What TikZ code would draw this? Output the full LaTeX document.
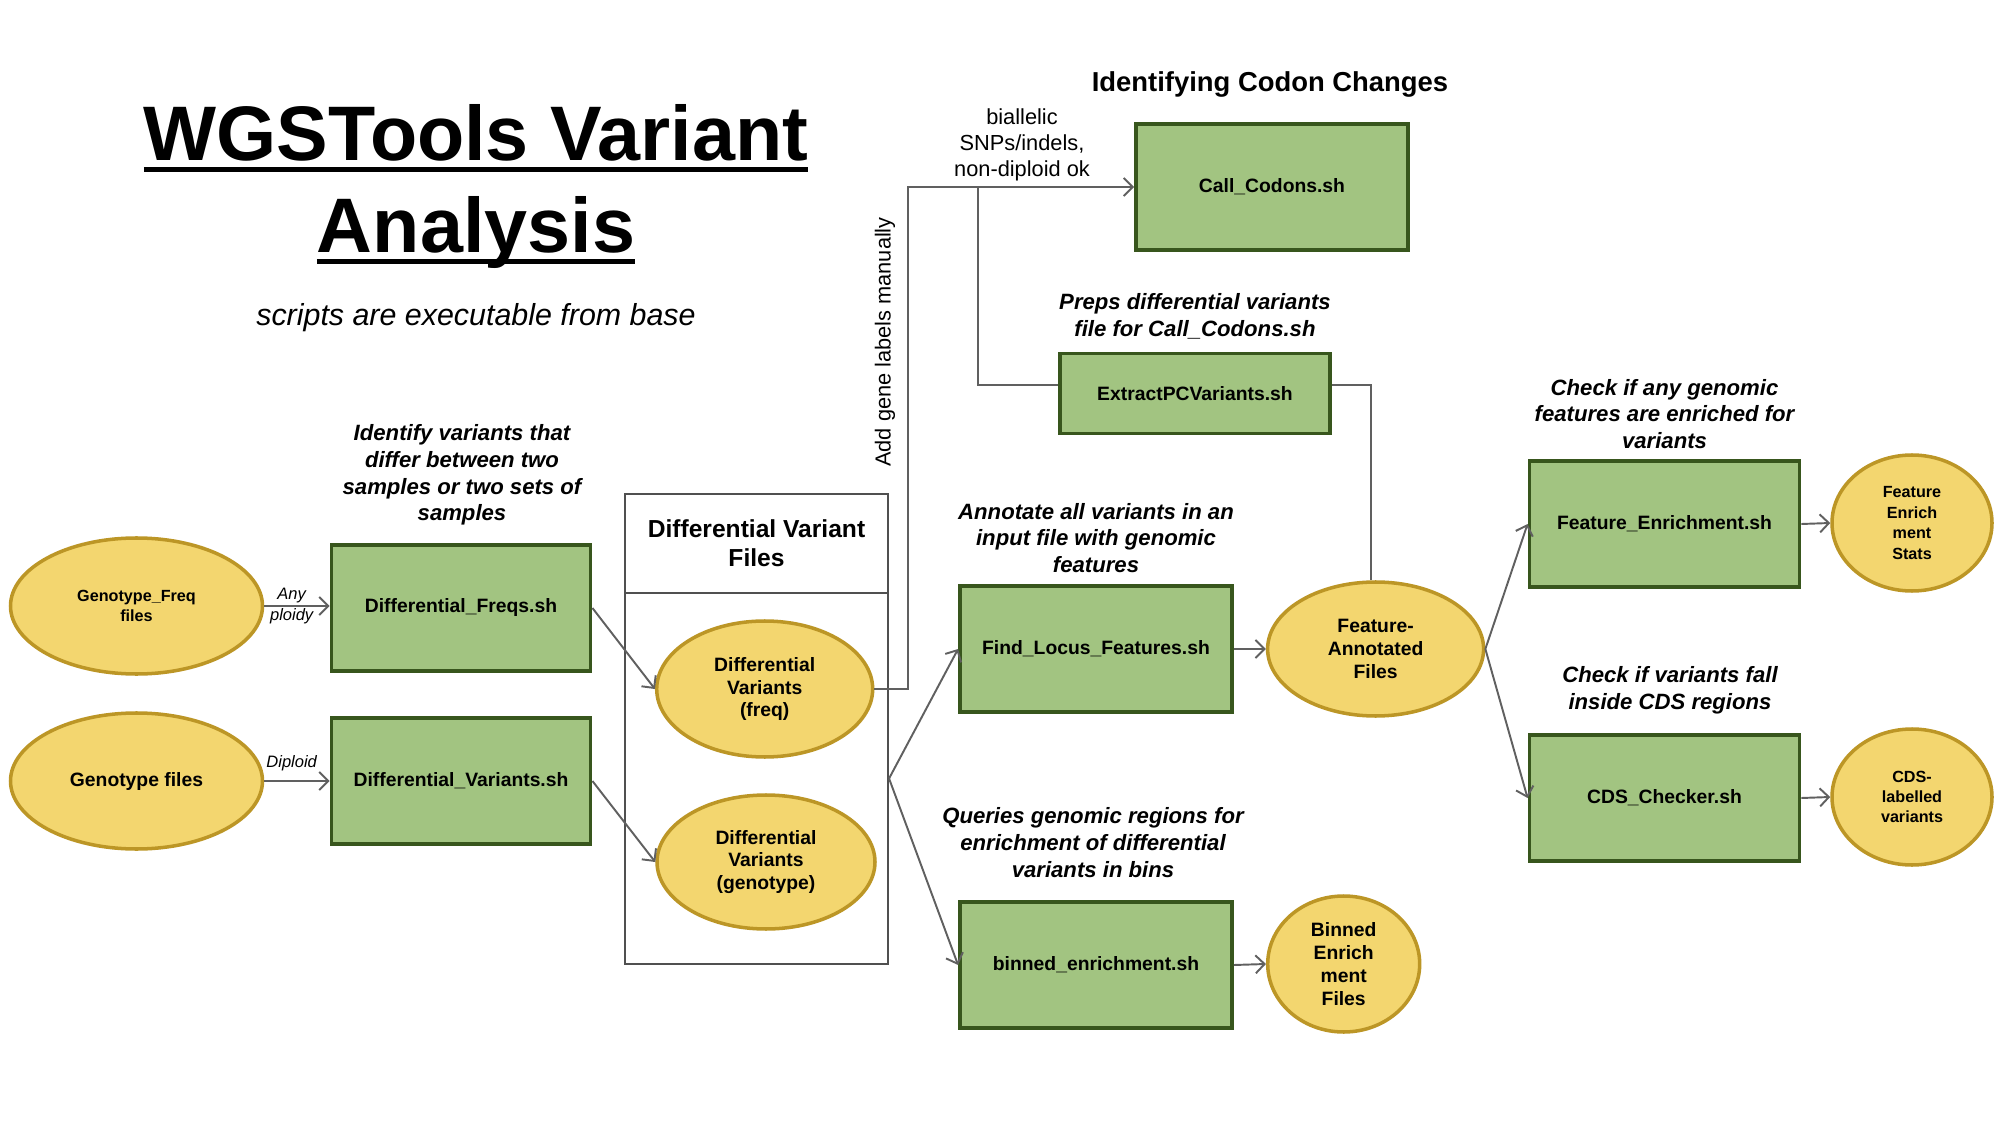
\documentclass[tikz,border=0pt]{standalone}
\usepackage{fontspec}
\setmainfont{Liberation Sans}
\usepackage{tikz}
\usetikzlibrary{arrows.meta,shapes.geometric}
\definecolor{wgGreen}{HTML}{A2C481}
\definecolor{wgGreenDark}{HTML}{38561D}
\definecolor{wgYellow}{HTML}{F3D66F}
\definecolor{wgYellowDark}{HTML}{BC9626}
\definecolor{wgGray}{HTML}{606060}
\definecolor{wgFrame}{HTML}{505050}
\newcommand{\titleul}[1]{\setbox0\hbox{#1}\rlap{\rule[-3.2pt]{\wd0}{1.6pt}}\box0}

\begin{document}
\begin{tikzpicture}[
    script/.style={draw=wgGreenDark, fill=wgGreen, line width=1.1pt, minimum width=2.72cm, minimum height=1.26cm, inner sep=0pt, font=\fontsize{5.5}{6.5}\selectfont\bfseries},
    datafile/.style={ellipse, draw=wgYellowDark, fill=wgYellow, line width=1pt, inner sep=0pt, align=center, font=\fontsize{5.5}{6.5}\selectfont\bfseries},
    smalltext/.style={font=\fontsize{4.6}{5.8}\selectfont\bfseries},
    flow/.style={draw=wgGray, line width=0.55pt, -{Straight Barb[length=0.9mm,width=1.8mm]}},
    link/.style={draw=wgGray, line width=0.55pt},
    blurb/.style={align=center, font=\fontsize{6.3}{7.6}\selectfont\bfseries\itshape},
    edgenote/.style={align=center, inner sep=1pt, font=\fontsize{4.7}{5.8}\selectfont\itshape},
    plainnote/.style={align=center, font=\fontsize{6.2}{7.5}\selectfont},
]
    \useasboundingbox (0,0) rectangle (20,11.25);
    % title
    \node[anchor=base, font=\fontsize{22}{26}\selectfont\bfseries] (title1) at (4.76,9.64) {\titleul{WGSTools Variant}};
    \node[anchor=base, font=\fontsize{22}{26}\selectfont\bfseries] (title2) at (4.76,8.72) {\titleul{Analysis}};
    \node[anchor=base, font=\fontsize{8.65}{10}\selectfont\itshape] (subtitle) at (4.76,7.99) {scripts are executable from base};

    % input files and differential scripts
    \node[datafile, smalltext, minimum width=2.52cm, minimum height=1.36cm] (gfreq) at (1.365,5.19) {Genotype\_Freq\\files};
    \node[datafile, minimum width=2.52cm, minimum height=1.36cm] (geno) at (1.365,3.44) {Genotype files};
    \node[script, minimum width=2.59cm] (dfreq) at (4.61,5.17) {Differential\_Freqs.sh};
    \node[script, minimum width=2.59cm] (dvar) at (4.61,3.44) {Differential\_Variants.sh};
    \node[blurb] (diffnote) at (4.62,6.50) {Identify variants that\\differ between two\\samples or two sets of\\samples};

    % differential variant files (header + body)
    \node[draw=wgFrame, line width=0.6pt, minimum width=2.63cm, minimum height=0.99cm, align=center, font=\fontsize{7}{8.3}\selectfont\bfseries] (dvhead) at (7.565,5.815) {Differential Variant\\Files};
    \node[draw=wgFrame, line width=0.6pt, minimum width=2.63cm, minimum height=3.71cm] (dvbox) at (7.565,3.465) {};
    \node[datafile, minimum width=2.16cm, minimum height=1.36cm] (dvfreq) at (7.647,4.36) {Differential\\Variants\\(freq)};
    \node[datafile, minimum width=2.18cm, minimum height=1.34cm] (dvgeno) at (7.66,2.63) {Differential\\Variants\\(genotype)};

    % codon changes
    \node[font=\fontsize{7.8}{9}\selectfont\bfseries] (codonhead) at (12.70,10.41) {Identifying Codon Changes};
    \node[script] (codons) at (12.72,9.38) {Call\_Codons.sh};
    \node[blurb] (prepnote) at (11.95,8.09) {Preps differential variants\\file for Call\_Codons.sh};
    \node[script, minimum width=2.70cm, minimum height=0.80cm] (extract) at (11.95,7.315) {ExtractPCVariants.sh};
    \node[plainnote] (splitnote) at (10.22,9.80) {biallelic\\SNPs/indels,\\non-diploid ok};
    \node[plainnote, rotate=90] (genenote) at (8.85,7.83) {Add gene labels manually};

    % annotation and binning
    \node[blurb] (locusnote) at (10.96,5.87) {Annotate all variants in an\\input file with genomic\\features};
    \node[script] (locus) at (10.96,4.76) {Find\_Locus\_Features.sh};
    \node[blurb] (binnote) at (10.93,2.825) {Queries genomic regions for\\enrichment of differential\\variants in bins};
    \node[script] (binned) at (10.96,1.60) {binned\_enrichment.sh};
    \node[datafile, minimum width=2.16cm, minimum height=1.34cm] (featann) at (13.756,4.76) {Feature-\\Annotated\\Files};
    \node[datafile, minimum width=1.52cm, minimum height=1.36cm] (binout) at (13.437,1.61) {Binned\\Enrich\\ment\\Files};

    % feature checks
    \node[blurb] (enrnote) at (16.645,7.11) {Check if any genomic\\features are enriched for\\variants};
    \node[script, minimum width=2.70cm] (featenr) at (16.645,6.01) {Feature\_Enrichment.sh};
    \node[blurb] (cdsnote) at (16.70,4.35) {Check if variants fall\\inside CDS regions};
    \node[script, minimum width=2.70cm] (cds) at (16.645,3.27) {CDS\_Checker.sh};
    \node[datafile, smalltext, minimum width=1.60cm, minimum height=1.36cm] (featout) at (19.12,6.02) {Feature\\Enrich\\ment\\Stats};
    \node[datafile, smalltext, minimum width=1.60cm, minimum height=1.36cm] (cdsout) at (19.12,3.28) {CDS-\\labelled\\variants};

    % connectors
    \draw[flow] (gfreq.east) -- (gfreq.east -| dfreq.west) node[edgenote, pos=0.42] {Any\\ploidy};
    \draw[flow] (geno.east) -- (geno.east -| dvar.west) node[edgenote, pos=0.42, above=1.5pt] {Diploid};
    \draw[flow] (dfreq.east) -- (dvfreq.west);
    \draw[flow] (dvar.east) -- (dvgeno.west);
    \coordinate (turn) at (9.08,9.38);
    \coordinate (split) at (9.78,9.38);
    \draw[flow] (dvfreq.east) -| (turn) -- (codons.west);
    \draw[link] (split) |- ([yshift=0.085cm]extract.west);
    \draw[link] ([yshift=0.085cm]extract.east) -| ([xshift=-0.046cm]featann.north);
    \draw[flow] (dvbox.east) -- (locus.west);
    \draw[flow] (dvbox.east) -- (binned.west);
    \draw[flow] (locus.east) -- (featann.west);
    \draw[flow] (binned.east) -- (binout.west);
    \draw[flow] (featann.east) -- (featenr.west);
    \draw[flow] (featann.east) -- (cds.west);
    \draw[flow] (featenr.east) -- (featout.west);
    \draw[flow] (cds.east) -- (cdsout.west);
\end{tikzpicture}
\end{document}
